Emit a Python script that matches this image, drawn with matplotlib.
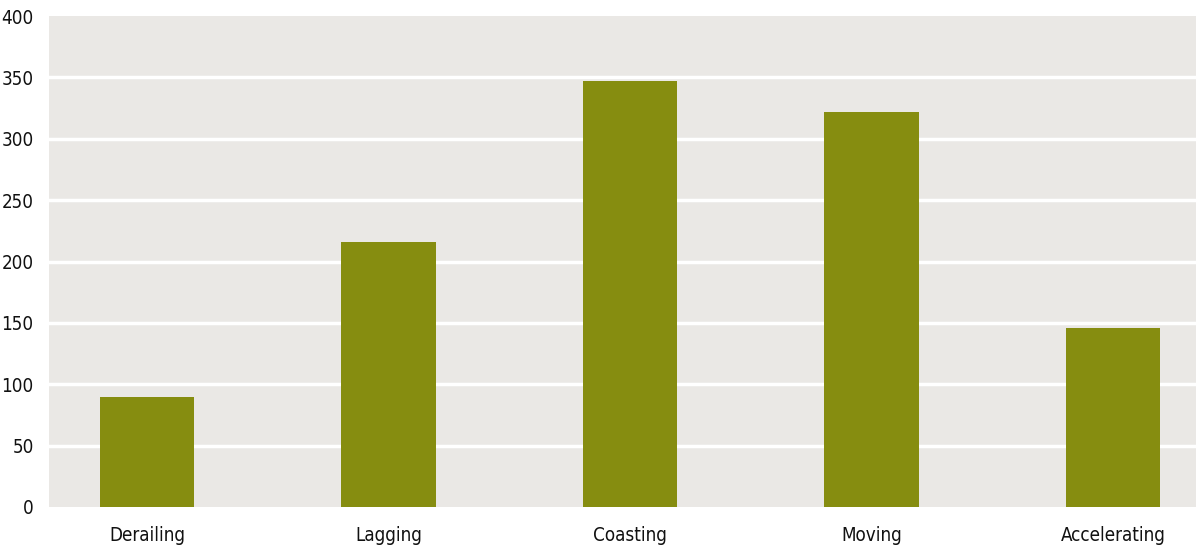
import matplotlib
matplotlib.use("Agg")
import matplotlib.pyplot as plt
from matplotlib import font_manager

categories = ["Derailing", "Lagging", "Coasting", "Moving", "Accelerating"]
values = [90, 216, 347, 322, 146]
yticks = [0, 50, 100, 150, 200, 250, 300, 350, 400]

names = {f.name for f in font_manager.fontManager.ttflist}
fam = "Liberation Sans Narrow" if "Liberation Sans Narrow" in names else "DejaVu Sans"
plt.rcParams["font.family"] = [fam, "DejaVu Sans"]
plt.rcParams["font.stretch"] = "condensed"

fig = plt.figure(figsize=(11.96, 5.48), dpi=100)
ax = fig.add_axes([49 / 1196, 41 / 548, 1 - 49 / 1196, 491 / 548])
ax.set_facecolor("#EAE8E5")

x = range(len(categories))
ax.bar(x, values, width=0.39, color="#868D10", zorder=3)

ax.set_ylim(0, 400)
ax.set_xlim(-0.406, 4.344)
ax.set_yticks(yticks)
ax.set_xticks(list(x))
ax.set_xticklabels(categories)
for y in yticks[1:-1]:
    ax.axhline(y, color="white", lw=2.5, zorder=1)

for s in ax.spines.values():
    s.set_visible(False)
ax.tick_params(length=0, labelsize=13.5, colors="#111111")
for lbl in ax.get_xticklabels() + ax.get_yticklabels():
    lbl.set_fontstretch("condensed")
ax.tick_params(axis="y", pad=11)
ax.tick_params(axis="x", pad=14)

fig.savefig("out.png", dpi=100)
